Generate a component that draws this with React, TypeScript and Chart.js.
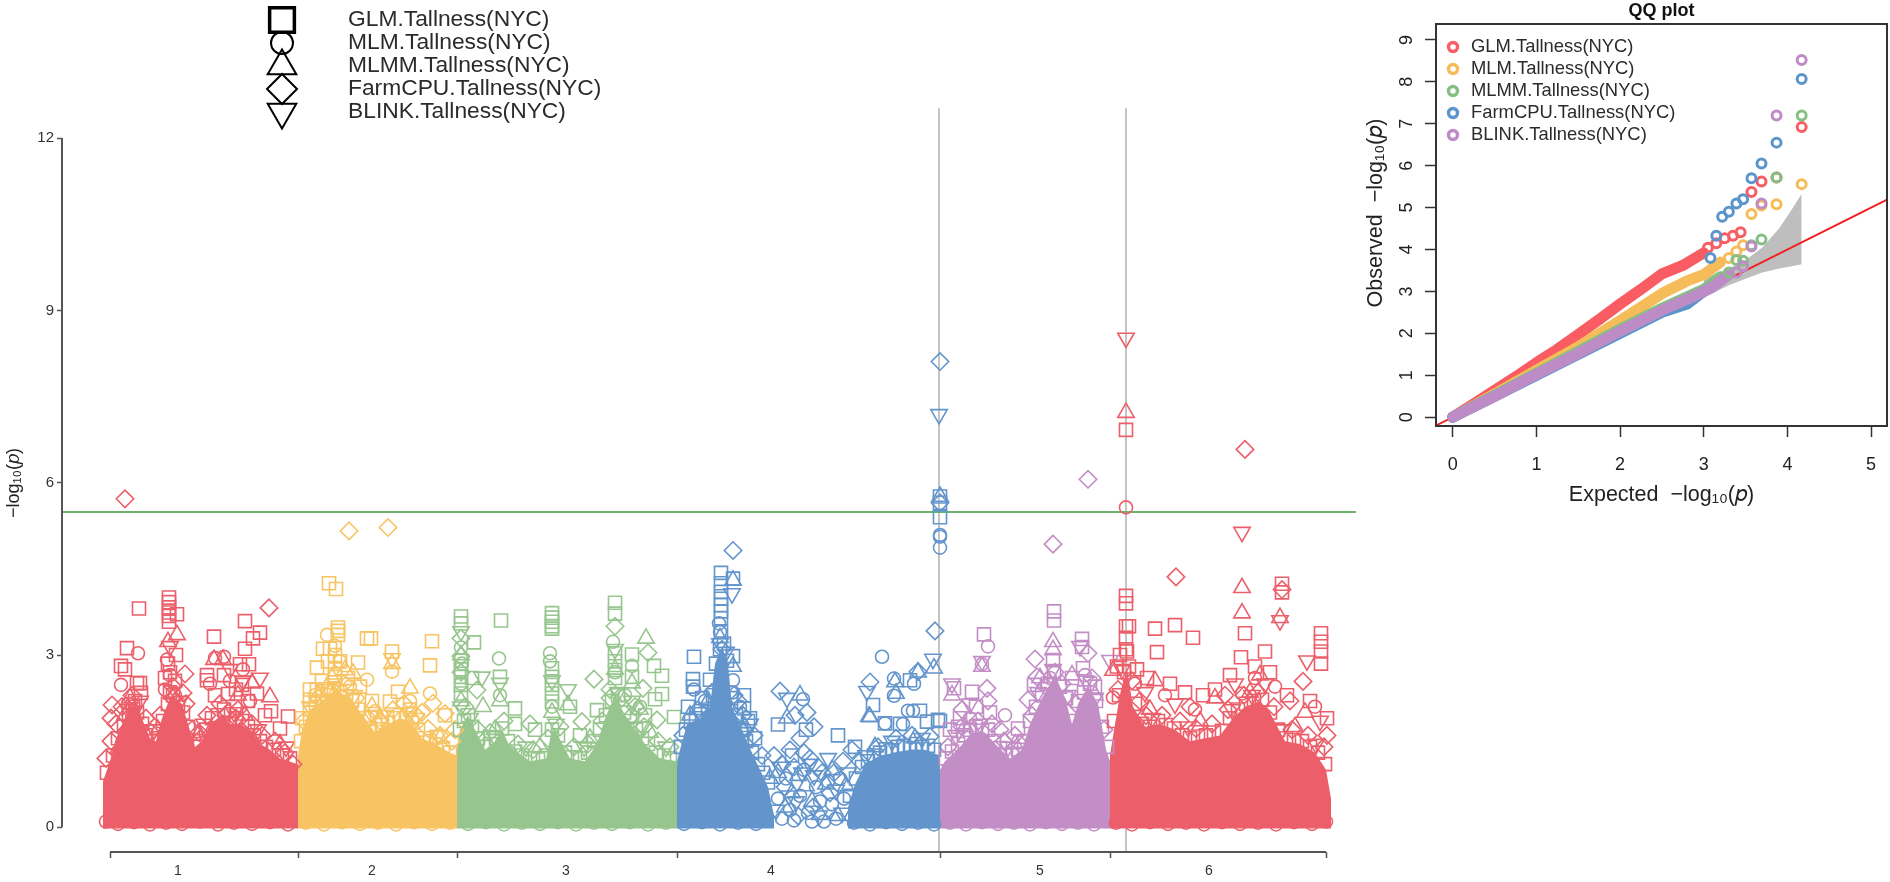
import React, { useEffect, useRef } from "react";
import { Chart, registerables } from "chart.js";
import { drawPoint } from "chart.js/helpers";

Chart.register(...registerables);

const FONT = "'Liberation Sans', Arial, sans-serif";

// ---------- Manhattan data (x = cumulative genome position, y = -log10 p) ----------
const chromosomes = ["1", "2", "3", "4", "5", "6"];
const chromosomeEnds = [188, 347, 567, 830, 1000, 1216];
const chromosomeLabelAt = [68, 262, 456, 661, 930, 1099];
const chromosomeColors = ["#EC5F6A", "#F8C463", "#97C58E", "#6395CC", "#C28EC5", "#EC5F6A"];
const threshold = 5.49;
const signalPositions = [829, 1016];

const methods = ["GLM.Tallness(NYC)", "MLM.Tallness(NYC)", "MLMM.Tallness(NYC)", "FarmCPU.Tallness(NYC)", "BLINK.Tallness(NYC)"];

const denseChr1 = [[-7,0.8],[0,1.15],[5,1.5],[12,1.8],[20,2.1],[28,2.1],[34,1.8],[40,1.55],[46,1.5],[52,1.9],[60,2.25],[72,2.15],[78,1.8],[85,1.4],[92,1.5],[100,1.8],[112,1.95],[120,1.8],[130,1.8],[140,1.7],[150,1.45],[160,1.35],[170,1.2],[188,1.1]];
const denseChr2 = [[188,1.25],[192,1.7],[200,2.05],[212,2.2],[225,2.4],[240,2.25],[255,1.9],[265,1.65],[278,1.8],[290,1.9],[300,1.85],[312,1.55],[325,1.45],[340,1.3],[347,1.25]];
const denseChr3 = [[347,1.35],[350,1.7],[358,1.95],[365,1.7],[375,1.35],[385,1.5],[392,1.7],[400,1.4],[420,1.15],[436,1.2],[442,1.7],[448,1.6],[460,1.2],[475,1.15],[487,1.45],[495,1.9],[505,2.3],[515,1.95],[525,1.7],[535,1.45],[550,1.2],[567,1.15]];
const denseChr4a = [[567,1.15],[570,1.35],[577,1.8],[590,1.9],[600,2.1],[605,2.85],[612,3.15],[618,2.85],[622,2.1],[632,1.7],[642,1.3],[650,1.0],[658,0.7],[664,0.2]];
const denseChr4b = [[738,0.35],[745,0.75],[755,1.1],[770,1.25],[785,1.3],[800,1.35],[815,1.35],[830,1.25]];
const denseChr5 = [[830,1.0],[835,1.15],[850,1.4],[862,1.65],[875,1.65],[888,1.4],[900,1.2],[912,1.35],[920,1.8],[932,2.25],[945,2.65],[955,2.25],[962,1.8],[968,2.15],[978,2.45],[988,2.15],[996,1.35],[1000,1.15]];
const denseChr6 = [[1000,1.25],[1005,1.8],[1011,2.4],[1017,2.75],[1023,2.1],[1035,1.75],[1050,1.8],[1065,1.7],[1080,1.5],[1095,1.55],[1110,1.6],[1123,1.9],[1135,2.1],[1150,2.2],[1160,2.0],[1175,1.5],[1190,1.45],[1205,1.3],[1216,1.0],[1221,0.5]];

const glmPoints = [
[29,3.81],[59,4.0],[59,3.92],[59,3.83],[59,3.74],[59,3.68],[59,3.58],[67,3.71],[17,3.12],[11,2.81],[15,2.75],[27,2.51],[30,2.51],[31,2.34],[25,2.2],[66,3.0],[58,2.85],[60,2.7],[55,2.6],[65,2.55],[60,2.35],[104,3.32],[135,3.59],[150,3.39],[143,3.29],[135,3.11],[130,2.84],[139,2.84],[97,2.65],[97,2.56],[114,2.65],[132,2.48],[147,2.33],[178,1.93],[161,2.02],[105,2.3],[118,2.32],[126,2.4],[138,2.2],[155,1.95],[170,1.72],
[192,1.9],[219,4.25],[226,4.15],[228,3.48],[228,3.42],[228,3.35],[257,3.29],[213,3.11],[220,3.11],[225,3.0],[207,2.78],[218,2.89],[230,2.89],[248,2.87],[282,3.06],[280,2.19],[288,2.36],[200,2.4],[200,2.22],[200,2.05],[207,2.4],[322,3.24],[320,2.82],[261,3.29],[225,2.75],[225,2.62],[238,2.6],[212,2.55],[262,2.2],[300,2.05],[335,1.95],[250,2.45],
[351,3.67],[351,3.55],[351,2.9],[351,2.75],[351,2.62],[351,2.48],[351,2.33],[364,3.22],[391,3.6],[390,2.62],[362,2.6],[405,2.07],[405,1.8],[442,3.73],[442,3.65],[442,3.58],[442,3.5],[442,3.46],[442,2.77],[442,2.62],[442,2.48],[442,2.33],[442,2.19],[460,2.1],[505,3.91],[505,3.72],[505,3.03],[505,2.89],[505,2.74],[505,2.6],[522,3.01],[544,2.81],[552,2.64],[552,2.32],[545,2.23],[522,2.62],[564,1.92],[487,2.04],[425,1.7],[470,1.6],[535,1.95],
[611,4.43],[611,4.25],[611,4.1],[611,3.98],[611,3.87],[611,3.76],[611,3.64],[611,3.4],[623,4.33],[584,2.97],[583,2.58],[583,2.45],[592,2.25],[623,2.98],[634,2.3],[634,2.07],[600,2.57],[578,2.1],[638,1.85],[645,1.55],[800,2.56],[763,2.13],[668,1.79],[810,2.03],[828,1.87],[775,1.81],[817,1.84],[728,1.6],[696,1.7],[745,1.4],[790,1.8],[682,1.25],[640,1.9],
[830,5.76],[830,5.65],[830,5.4],[830,1.85],[944,3.76],[944,3.6],[874,3.36],[972,3.28],[972,3.14],[943,2.91],[844,2.42],[862,2.36],[848,1.75],[924,2.48],[962,2.6],[973,2.77],[908,1.72],[880,2.0],[866,2.1],[850,1.9],[840,1.7],[985,2.45],
[1016,6.92],[1016,4.03],[1016,3.9],[1016,3.5],[1016,3.3],[1016,3.1],[1172,4.24],[1172,4.09],[1135,3.38],[1019,3.5],[1045,3.46],[1065,3.52],[1083,3.3],[1211,3.38],[1211,3.23],[1211,3.06],[1211,2.85],[1155,3.06],[1131,2.96],[1047,3.05],[1017,3.06],[1010,3.0],[1007,2.8],[1027,2.75],[1037,2.6],[1060,2.5],[1075,2.35],[1093,2.3],[1105,2.4],[1120,2.65],[1145,2.8],[1160,2.7],[1177,2.3],[1200,2.2],[1217,1.9]
];

const glmMesh = [
[-3,0.95],[3,1.25],[8,1.55],[14,1.75],[19,1.95],[23,2.1],[27,2.0],[32,1.8],[36,1.6],[42,1.5],[48,1.55],[53,1.85],[58,2.15],[63,2.3],[68,2.1],[73,2.0],[78,1.75],[84,1.45],[90,1.5],[96,1.7],[102,1.9],[108,1.95],[114,2.05],[120,1.8],[126,1.9],[132,1.85],[138,1.75],[144,1.6],[150,1.5],[156,1.4],[164,1.35],[172,1.25],[180,1.2],
[191,1.5],[196,1.75],[200,1.9],[206,2.1],[212,2.2],[218,2.3],[224,2.42],[230,2.35],[236,2.28],[242,2.2],[248,2.05],[254,1.9],[260,1.72],[266,1.66],[272,1.78],[278,1.82],[284,1.9],[290,1.95],[296,1.9],[302,1.82],[308,1.7],[314,1.55],[320,1.5],[326,1.44],[333,1.38],[340,1.3],
[350,1.7],[354,1.85],[358,1.95],[362,1.75],[368,1.55],[374,1.4],[380,1.45],[386,1.55],[392,1.72],[398,1.5],[405,1.32],[412,1.25],[420,1.2],[428,1.18],[436,1.25],[442,1.7],[448,1.6],[455,1.3],[462,1.22],[470,1.2],[478,1.3],[484,1.5],[490,1.7],[496,1.95],[502,2.2],[508,2.3],[514,2.0],[520,1.85],[526,1.7],[532,1.55],[538,1.45],[546,1.3],[554,1.25],[560,1.2],
[571,1.4],[576,1.7],[581,1.85],[586,1.9],[592,1.85],[598,2.05],[603,2.3],[606,2.85],[610,3.1],[614,3.2],[617,2.9],[621,2.25],[626,1.95],[631,1.7],[636,1.5],[642,1.3],[648,1.1],[653,0.95],[658,0.78],
[740,0.55],[746,0.85],[752,1.05],[758,1.15],[764,1.25],[770,1.3],[776,1.36],[782,1.34],[788,1.4],[794,1.42],[800,1.38],[806,1.45],[812,1.4],[818,1.42],[824,1.35],
[836,1.2],[842,1.32],[848,1.45],[854,1.6],[860,1.7],[866,1.75],[872,1.68],[878,1.7],[884,1.5],[890,1.38],[896,1.25],[902,1.28],[908,1.35],[914,1.5],[920,1.85],[926,2.1],[932,2.3],[938,2.5],[944,2.7],[950,2.45],[956,2.25],[962,1.85],[968,2.2],[974,2.35],[980,2.5],[986,2.2],[992,1.75],[997,1.4],
[1004,1.85],[1009,2.3],[1014,2.7],[1019,2.8],[1025,2.15],[1032,1.8],[1040,1.75],[1048,1.85],[1056,1.78],[1064,1.72],[1072,1.6],[1080,1.55],[1088,1.58],[1096,1.6],[1104,1.65],[1112,1.68],[1120,1.9],[1128,2.05],[1136,2.15],[1144,2.2],[1152,2.22],[1160,2.0],[1168,1.7],[1176,1.55],[1184,1.52],[1192,1.5],[1200,1.4],[1208,1.3],[1215,1.1]
];

const mlmPoints = [
[28,3.03],[11,2.48],[114,2.97],[105,2.95],[133,2.75],[57,2.92],[60,2.65],[55,2.4],[65,2.3],[120,2.55],[100,2.5],[18,2.15],[140,2.2],
[217,3.35],[225,3.16],[257,2.57],[282,2.71],[265,2.02],[230,2.89],[320,2.33],[205,2.3],[240,2.45],[300,2.2],
[351,3.13],[352,2.85],[389,2.94],[440,3.03],[440,2.89],[503,3.23],[522,2.81],[351,2.5],[390,2.3],[442,2.1],[505,2.7],[515,2.3],[530,2.1],
[609,3.55],[610,3.4],[623,2.56],[623,2.35],[772,2.97],[784,2.59],[784,2.29],[804,2.5],[798,2.03],[803,2.03],[693,2.23],[775,1.81],[793,1.8],[584,2.4],[595,2.2],[630,2.1],
[672,0.15],[680,0.3],[690,0.55],[698,0.25],[706,0.7],[714,0.1],[722,0.4],[730,0.85],[668,0.5],[676,0.85],[684,0.12],[694,1.0],[702,0.1],[710,0.45],[718,0.8],[726,0.15],[734,0.5],
[830,5.09],[830,5.06],[830,4.87],[878,3.15],[872,2.84],[895,1.95],[940,2.6],[975,2.65],[860,1.9],
[1016,5.57],[1132,2.33],[1025,2.5],[1055,2.3],[1145,2.6],[1205,2.1],[1003,2.26],[1085,2.05],[1165,2.45]
];

const bottomCircles = [
[-4,0.1],[8,0.06],[24,0.09],[40,0.05],[56,0.08],[72,0.06],[90,0.1],[108,0.05],[124,0.08],[142,0.06],[160,0.09],[178,0.05],
[196,0.08],[214,0.05],[232,0.09],[250,0.06],[268,0.08],[286,0.05],[304,0.09],[322,0.06],[340,0.08],
[358,0.06],[376,0.09],[394,0.05],[412,0.08],[430,0.06],[448,0.09],[466,0.05],[484,0.08],[502,0.06],[520,0.09],[538,0.05],[556,0.08],
[574,0.06],[592,0.09],[610,0.05],[628,0.08],[646,0.06],[744,0.08],[760,0.05],[776,0.09],[792,0.06],[808,0.08],[824,0.05],
[840,0.08],[856,0.05],[872,0.09],[888,0.06],[904,0.08],[920,0.05],[936,0.09],[952,0.06],[968,0.08],[984,0.05],
[1006,0.08],[1022,0.05],[1040,0.09],[1058,0.06],[1076,0.08],[1094,0.05],[1112,0.09],[1130,0.06],[1148,0.08],[1166,0.05],[1184,0.09],[1202,0.06],[1216,0.1]
];

const mlmmPoints = [
[67,3.35],[58,3.23],[104,2.92],[113,2.92],[160,2.27],[142,2.51],[20,2.25],[128,2.3],
[235,2.74],[243,2.68],[282,2.85],[300,2.42],[222,2.6],[262,2.1],[210,2.35],
[373,2.1],[458,2.13],[536,3.29],[522,2.51],[351,3.0],[390,2.2],[351,2.2],[505,2.75],[530,2.05],[442,2.0],
[623,4.3],[623,2.8],[610,3.3],[690,2.3],[677,1.9],[785,2.53],[786,2.33],[824,2.77],[759,1.93],[760,1.92],[808,2.7],[598,2.2],
[675,0.35],[688,0.9],[702,0.45],[716,0.75],[728,0.2],[660,0.85],[668,0.95],[682,0.6],[696,0.72],[710,0.22],[722,1.0],[736,0.72],
[830,5.76],[943,3.23],[943,3.09],[872,2.8],[962,2.65],[842,2.3],[930,2.6],[1003,2.73],
[1016,7.22],[1132,4.17],[1132,3.73],[1170,3.65],[1045,2.55],[1105,2.25],[1150,2.65],[1195,2.0],
[15,1.95],[48,1.7],[88,1.6],[135,1.95],[170,1.45],[205,2.2],[270,1.9],[330,1.55],[385,1.7],[430,1.4],[480,1.55],[540,1.65],[580,1.95],[635,1.75],[765,1.4],[805,1.55],[855,1.75],[905,1.45],[985,2.3],[1040,2.05],[1090,1.85],[1140,2.35],[1185,1.75]
];

const farmcpuPoints = [
[15,5.72],[159,3.82],[75,2.67],[2,2.13],[63,2.25],[73,2.34],[1,1.9],[126,1.9],
[239,5.16],[278,5.22],[323,2.16],[335,1.98],[312,2.0],[345,1.7],
[367,2.39],[484,2.58],[505,3.5],[538,3.04],[533,2.42],[547,1.87],[472,1.84],[351,3.29],[351,2.98],[351,2.7],[420,1.8],[500,2.25],[525,2.1],
[623,4.82],[670,2.37],[830,8.11],[830,5.65],[825,3.42],[760,2.53],[808,2.71],[612,3.1],[628,2.2],[685,1.95],[697,2.0],[704,1.75],
[664,1.25],[675,0.7],[684,1.05],[694,1.3],[703,0.35],[712,0.95],[720,0.6],[733,1.15],[742,1.35],[688,0.2],[680,1.35],[690,1.55],[700,1.2],[708,1.05],[724,0.95],[672,1.1],
[943,4.93],[978,6.06],[978,3.03],[925,2.93],[877,2.42],[878,2.2],[852,2.05],[918,2.22],[927,2.62],[890,1.7],[905,1.6],[945,2.7],
[1135,6.58],[1066,4.36],[1172,4.14],[1193,2.54],[1030,2.2],[1080,2.1],[1115,2.3],[1180,2.2],[1217,1.6],
[-4,1.2],[1,1.5],[6,1.8],[9,1.3],[12,2.1],[22,2.3],[36,1.9],[41,1.65],[50,1.95],[63,2.45],[76,2.15],[82,1.7],[89,1.65],[97,1.95],[110,2.15],[118,2.0],[128,2.05],[142,1.8],[152,1.6],[165,1.5],[175,1.3],[183,1.1],
[194,1.85],[208,2.25],[221,2.35],[234,2.5],[246,2.25],[258,1.9],[270,1.85],[283,2.05],[294,2.15],[306,1.95],[318,1.72],[330,1.6],[342,1.5],
[355,2.1],[368,1.7],[380,1.65],[394,1.85],[408,1.45],[423,1.35],[438,1.55],[450,1.75],[464,1.4],[478,1.45],[492,1.85],[500,2.4],[512,2.25],[522,1.95],[534,1.75],[548,1.5],[560,1.4],
[573,1.6],[588,2.05],[602,2.35],[624,2.3],[633,1.95],[644,1.6],[652,1.25],[750,1.15],[768,1.4],[786,1.55],[802,1.6],[820,1.58],
[838,1.4],[852,1.75],[868,1.85],[882,1.8],[894,1.5],[910,1.45],[922,1.95],[936,2.45],[952,2.5],[966,2.15],[982,2.6],[994,1.7],
[1008,2.4],[1022,2.55],[1036,1.95],[1052,1.95],[1070,1.85],[1086,1.72],[1102,1.8],[1118,2.05],[1134,2.3],[1148,2.35],[1164,2.1],[1182,1.7],[1198,1.6],[1214,1.4]
];

const blinkPoints = [
[150,2.6],[30,2.2],[60,3.15],[120,2.75],[133,2.55],
[282,2.94],[225,2.5],[262,1.95],[200,2.1],[306,1.9],
[351,3.41],[372,2.62],[390,2.51],[458,2.4],[505,3.1],[442,2.55],[351,2.1],[522,2.2],
[622,4.07],[829,7.19],[823,2.93],[757,2.37],[677,2.25],[610,3.2],[640,1.8],
[670,1.05],[679,0.55],[692,0.95],[700,1.1],[709,0.2],[718,1.2],[726,0.65],[738,0.95],[666,0.3],[686,0.45],[704,0.9],[732,0.25],
[872,2.89],[842,2.5],[970,3.15],[1000,2.91],[943,2.75],[860,2.15],[985,2.25],
[1016,8.52],[1132,5.14],[1170,3.6],[1197,2.9],[1125,2.5],[1035,2.35],[1065,2.15],[1155,2.5],[1210,1.85],
[18,2.05],[44,1.7],[70,2.2],[94,1.8],[124,2.0],[148,1.7],[176,1.4],[216,2.4],[244,2.3],[274,1.95],[300,2.0],[328,1.6],[360,1.9],[384,1.6],[416,1.4],[446,1.8],[474,1.4],[508,2.35],[530,1.75],[556,1.4],[590,2.0],[616,3.05],[636,1.65],[756,1.25],[782,1.5],[812,1.55],[846,1.6],[870,1.8],[898,1.4],[928,2.35],[958,2.3],[976,2.55],[1012,2.75],[1042,1.9],[1078,1.75],[1122,2.05],[1142,2.3],[1172,1.7],[1206,1.45]
];

// ---------- QQ data (expected, observed) ----------
const qqColors = ["#F95C62", "#F6BC59", "#86BF83", "#5C95CC", "#BD8CC6"];
const qqReference = [[-0.2,-0.2],[5.19,5.19]];
const qqCiUpper = [[3.0,3.3],[3.3,3.55],[3.5,3.75],[3.7,4.05],[3.9,4.5],[4.05,4.95],[4.17,5.33]];
const qqCiLower = [[3.0,2.85],[3.3,3.15],[3.5,3.3],[3.7,3.45],[3.9,3.55],[4.05,3.6],[4.17,3.65]];

const qqGlmBand = [[0,0],[0.25,0.32],[0.5,0.64],[0.75,0.96],[1,1.3],[1.25,1.62],[1.5,1.97],[1.75,2.33],[2,2.7],[2.25,3.05],[2.5,3.42],[2.75,3.62],[3,3.92]];
const qqMlmBand = [[0,0],[0.5,0.55],[1,1.12],[1.5,1.68],[2,2.3],[2.5,2.95],[2.8,3.25],[3,3.4],[3.2,3.7]];
const qqMlmmBand = [[0,0],[0.5,0.52],[1,1.05],[1.5,1.57],[2,2.1],[2.5,2.6],[3,3.05],[3.2,3.35]];
const qqFarmBand = [[0,0],[0.5,0.5],[1,1],[1.5,1.5],[2,2],[2.5,2.5],[2.8,2.7],[3,3.0]];
const qqBlinkBand = [[0,0],[0.5,0.5],[1,1.02],[1.5,1.52],[2,2.05],[2.5,2.55],[2.9,2.9],[3.1,3.1],[3.3,3.4]];

const qqGlmTail = [[3.05,4.04],[3.15,4.15],[3.25,4.27],[3.35,4.33],[3.44,4.41],[3.57,5.37],[3.69,5.62],[3.87,5.72],[4.17,6.92]];
const qqMlmTail = [[3.3,3.8],[3.39,3.95],[3.47,4.1],[3.57,4.85],[3.69,5.05],[3.87,5.08],[4.17,5.56]];
const qqMlmmTail = [[3.3,3.45],[3.39,3.75],[3.47,3.73],[3.57,4.1],[3.69,4.24],[3.87,5.72],[4.17,7.2]];
const qqFarmTail = [[3.08,3.8],[3.15,4.33],[3.22,4.78],[3.3,4.9],[3.39,5.1],[3.47,5.2],[3.57,5.7],[3.69,6.05],[3.87,6.55],[4.17,8.07]];
const qqBlinkTail = [[3.39,3.45],[3.47,3.6],[3.57,4.07],[3.69,5.1],[3.87,7.2],[4.17,8.52]];

// ---------- helpers ----------
const xy = (rows: number[][]) => rows.map(([x, y]) => ({ x, y }));
const colorAt = (x: number) => {
  for (let i = 0; i < chromosomeEnds.length; i++) if (x <= chromosomeEnds[i]) return chromosomeColors[i];
  return chromosomeColors[chromosomeColors.length - 1];
};

const rowLegend = {
  id: "rowLegend",
  afterDraw(chart: any, _a: any, o: any) {
    const ctx = chart.ctx;
    ctx.save();
    o.labels.forEach((label: string, i: number) => {
      const m = o.markers[i];
      ctx.strokeStyle = m.color;
      ctx.fillStyle = "rgba(0,0,0,0)";
      ctx.lineWidth = m.borderWidth;
      drawPoint(ctx, { pointStyle: m.style, rotation: m.rotation || 0, radius: m.radius, borderWidth: m.borderWidth }, o.markerX, o.rows[i]);
      ctx.fillStyle = "#2b2b2b";
      ctx.font = `${o.fontSize}px ${FONT}`;
      ctx.textAlign = "left";
      ctx.textBaseline = "middle";
      ctx.fillText(label, o.textX, o.rows[i]);
    });
    ctx.restore();
  },
};

const rAxes = {
  id: "rAxes",
  afterDraw(chart: any) {
    const { ctx, scales: { x, y }, chartArea } = chart;
    ctx.save();
    ctx.strokeStyle = "#555";
    ctx.lineWidth = 2;
    ctx.beginPath();
    ctx.moveTo(chartArea.left, y.getPixelForValue(0));
    ctx.lineTo(chartArea.left, y.getPixelForValue(12));
    ctx.moveTo(x.getPixelForValue(0), chartArea.bottom);
    ctx.lineTo(x.getPixelForValue(chromosomeEnds[chromosomeEnds.length - 1]), chartArea.bottom);
    ctx.stroke();
    ctx.restore();
  },
};

const boxFrame = {
  id: "boxFrame",
  afterDraw(chart: any) {
    const { ctx, chartArea: a } = chart;
    ctx.save();
    ctx.strokeStyle = "#333";
    ctx.lineWidth = 2;
    ctx.strokeRect(a.left, a.top, a.right - a.left, a.bottom - a.top);
    ctx.restore();
  },
};

function buildManhattan(canvas: HTMLCanvasElement) {
  const denseSets = [denseChr1, denseChr2, denseChr3, denseChr4a, denseChr4b, denseChr5, denseChr6].map((rows) => ({
    type: "line",
    data: xy(rows),
    borderWidth: 0,
    pointRadius: 0,
    tension: 0,
    backgroundColor: colorAt(rows[Math.floor(rows.length / 2)][0]),
    fill: { value: -0.02 },
    order: 10,
  }));
  const mark = (label: string, rows: number[][], pointStyle: string, radius: number, rotation = 0) => ({
    type: "scatter",
    label,
    data: xy(rows),
    pointStyle,
    pointRadius: radius,
    pointRotation: rotation,
    pointBorderWidth: 1.6,
    pointBackgroundColor: "rgba(0,0,0,0)",
    pointBorderColor: (c: any) => colorAt(c.raw ? c.raw.x : 0),
    order: 5,
  });
  const rule = (rows: number[][], color: string) => ({
    type: "line",
    data: xy(rows),
    borderColor: color,
    borderWidth: 2,
    pointRadius: 0,
    clip: false,
    order: 20,
  });
  const allTicks = [0, ...chromosomeEnds, ...chromosomeLabelAt].sort((a, b) => a - b).map((value) => ({ value }));
  return new Chart(canvas, {
    type: "line",
    data: {
      datasets: [
        ...denseSets,
        mark(methods[0], [...glmPoints, ...glmMesh], "rect", 9.2),
        mark(methods[1], [...mlmPoints, ...bottomCircles], "circle", 6.5),
        mark(methods[2], mlmmPoints, "triangle", 9.5),
        mark(methods[3], farmcpuPoints, "rectRot", 8.7),
        mark(methods[4], blinkPoints, "triangle", 9.5, 180),
        rule([[-48, threshold], [1246, threshold]], "#6DB06D"),
        rule([[signalPositions[0], -0.43], [signalPositions[0], 12.52]], "#C4C4C4"),
        rule([[signalPositions[1], -0.43], [signalPositions[1], 12.52]], "#C4C4C4"),
      ] as any,
    },
    options: {
      responsive: false,
      animation: false,
      events: [],
      layout: { autoPadding: false, padding: { top: 114, right: 4, left: 0, bottom: 0 } },
      plugins: {
        legend: { display: false },
        tooltip: { enabled: false },
        rowLegend: {
          labels: methods,
          markerX: 282,
          textX: 348,
          rows: [20, 43, 66, 89, 112],
          fontSize: 22.8,
          markers: [
            { style: "rect", radius: 17.5, borderWidth: 3.5, color: "#000" },
            { style: "circle", radius: 11, borderWidth: 2, color: "#000" },
            { style: "triangle", radius: 16.5, borderWidth: 2, color: "#000" },
            { style: "rectRot", radius: 15, borderWidth: 2, color: "#000" },
            { style: "triangle", radius: 16.5, borderWidth: 2, color: "#000", rotation: 180 },
          ],
        },
      } as any,
      scales: {
        x: {
          type: "linear",
          min: -48,
          max: 1246,
          afterBuildTicks: (s: any) => { s.ticks = allTicks; },
          afterFit: (s: any) => { s.height = 30; s.paddingLeft = 0; s.paddingRight = 0; },
          border: { display: false },
          grid: {
            drawOnChartArea: false,
            tickLength: 6,
            tickWidth: 1.5,
            tickColor: (c: any) => (chromosomeLabelAt.includes(c.tick.value) ? "rgba(0,0,0,0)" : "#555"),
          },
          ticks: {
            autoSkip: false,
            maxRotation: 0,
            minRotation: 0,
            padding: 5,
            color: "#333",
            font: { family: FONT, size: 14 },
            callback: (v: any) => {
              const i = chromosomeLabelAt.indexOf(Number(v));
              return i >= 0 ? chromosomes[i] : "";
            },
          },
        },
        y: {
          type: "linear",
          min: -0.43,
          max: 12.42,
          afterBuildTicks: (s: any) => { s.ticks = [0, 3, 6, 9, 12].map((value) => ({ value })); },
          afterFit: (s: any) => { s.width = 62; s.paddingTop = 0; s.paddingBottom = 0; },
          border: { display: false },
          grid: { drawOnChartArea: false, tickLength: 5, tickWidth: 1.5, tickColor: "#555" },
          ticks: { padding: 3, color: "#333", font: { family: FONT, size: 15 } },
          title: { display: true, text: "−log₁₀(𝑝)", padding: 3, color: "#222", font: { family: FONT, size: 18 } },
        },
      },
    },
    plugins: [rowLegend, rAxes],
  } as any);
}

function buildQQ(canvas: HTMLCanvasElement) {
  const band = (rows: number[][], color: string, order: number) => ({
    type: "line", data: xy(rows), borderColor: color, borderWidth: 11, borderCapStyle: "round", borderJoinStyle: "round", pointRadius: 0, tension: 0, order,
  });
  const tail = (rows: number[][], color: string, order: number) => ({
    type: "scatter", data: xy(rows), pointRadius: 4.5, pointBorderWidth: 3, pointBorderColor: color, pointBackgroundColor: "rgba(255,255,255,0)", order,
  });
  const bands = [qqGlmBand, qqMlmBand, qqMlmmBand, qqFarmBand, qqBlinkBand];
  const tails = [qqGlmTail, qqMlmTail, qqMlmmTail, qqFarmTail, qqBlinkTail];
  return new Chart(canvas, {
    type: "line",
    data: {
      datasets: [
        { type: "line", data: xy(qqCiUpper), borderWidth: 0, pointRadius: 0, backgroundColor: "#BEBEBE", fill: "+1", order: 30 },
        { type: "line", data: xy(qqCiLower), borderWidth: 0, pointRadius: 0, order: 30 },
        { type: "line", data: xy(qqReference), borderColor: "#F02020", borderWidth: 1.8, pointRadius: 0, order: 25 },
        ...bands.map((r, i) => band(r, qqColors[i], 20 - i)),
        ...tails.map((r, i) => tail(r, qqColors[i], 10 - i)),
      ] as any,
    },
    options: {
      responsive: false,
      animation: false,
      events: [],
      layout: { autoPadding: false, padding: { top: 0, right: 3, left: 0, bottom: 374 } },
      plugins: {
        legend: { display: false },
        tooltip: { enabled: false },
        title: {
          display: true,
          text: "QQ plot",
          fullSize: false,
          color: "#111",
          padding: { top: 0, bottom: 2.4 },
          font: { family: FONT, size: 18, weight: "bold" },
        },
        rowLegend: {
          labels: methods,
          markerX: 103,
          textX: 121,
          rows: [47, 69, 91, 113, 135],
          fontSize: 18.4,
          markers: qqColors.map((color) => ({ style: "circle", radius: 4.5, borderWidth: 3.4, color })),
        },
      } as any,
      scales: {
        x: {
          type: "linear",
          min: -0.2,
          max: 5.19,
          afterBuildTicks: (s: any) => { s.ticks = [0, 1, 2, 3, 4, 5].map((value) => ({ value })); },
          afterFit: (s: any) => { s.height = 82; s.paddingLeft = 0; s.paddingRight = 0; },
          border: { display: false },
          grid: { drawOnChartArea: false, tickLength: 11, tickWidth: 1.5, tickColor: "#333" },
          ticks: { padding: 17, color: "#222", maxRotation: 0, font: { family: FONT, size: 18 } },
          title: { display: true, text: "Expected  −log₁₀(𝑝)", padding: 0, color: "#222", font: { family: FONT, size: 21.5 } },
        },
        y: {
          type: "linear",
          min: -0.21,
          max: 9.38,
          afterBuildTicks: (s: any) => { s.ticks = [0, 1, 2, 3, 4, 5, 6, 7, 8, 9].map((value) => ({ value })); },
          afterFit: (s: any) => { s.width = 86; s.paddingTop = 0; s.paddingBottom = 0; },
          border: { display: false },
          grid: { drawOnChartArea: false, tickLength: 11, tickWidth: 1.5, tickColor: "#333" },
          ticks: { padding: 13, color: "#222", minRotation: 90, maxRotation: 90, crossAlign: "center", font: { family: FONT, size: 18 } },
          title: { display: true, text: "    Observed  −log₁₀(𝑝)", padding: 13, color: "#222", font: { family: FONT, size: 21.5 } },
        },
      },
    },
    plugins: [rowLegend, boxFrame],
  } as any);
}

export default function App() {
  const leftRef = useRef<HTMLCanvasElement>(null);
  const rightRef = useRef<HTMLCanvasElement>(null);
  useEffect(() => {
    const a = buildManhattan(leftRef.current!);
    const b = buildQQ(rightRef.current!);
    return () => { a.destroy(); b.destroy(); };
  }, []);
  return (
    <div style={{ position: "absolute", left: 0, top: 0, width: 1890, height: 882, overflow: "hidden", background: "#fff" }}>
      <canvas ref={leftRef} width={1360} height={882} style={{ position: "absolute", left: 0, top: 0, width: 1360, height: 882 }} />
      <canvas ref={rightRef} width={540} height={882} style={{ position: "absolute", left: 1350, top: 0, width: 540, height: 882 }} />
    </div>
  );
}
